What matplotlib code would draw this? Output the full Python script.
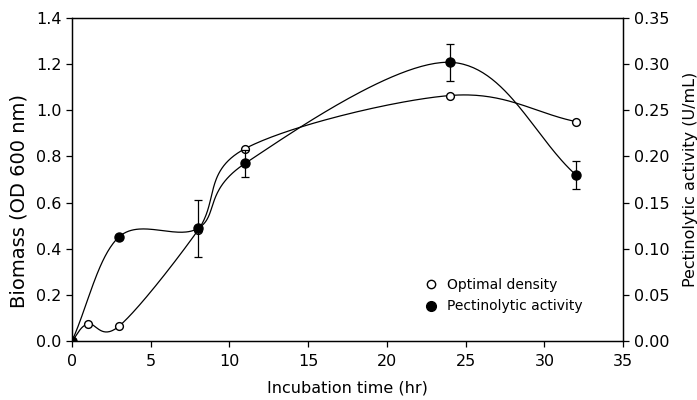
import numpy as np
import matplotlib
matplotlib.use("Agg")
import matplotlib.pyplot as plt
from matplotlib.lines import Line2D

plt.rcParams['font.family'] = ['DejaVu Sans']

# Data
od_time = [0, 1, 3, 8, 11, 24, 32]
od_values = [0.0, 0.074, 0.065, 0.48, 0.834, 1.064, 0.951]

act_time = [0, 3, 8, 11, 24, 32]
act_values = [0.0, 0.113, 0.122, 0.1925, 0.302, 0.180]
act_err = [0.0, 0.0, 0.031, 0.0145, 0.020, 0.015]

x_ticks = [0, 5, 10, 15, 20, 25, 30, 35]
left_ticks = [0.0, 0.2, 0.4, 0.6, 0.8, 1.0, 1.2, 1.4]
right_ticks = [0.00, 0.05, 0.10, 0.15, 0.20, 0.25, 0.30, 0.35]

XMAX, YL, YR = 35.0, 1.4, 0.35
W_PX, H_PX = 551.0, 323.0


def catmull_rom(x, y, ymax, n=60):
    """Parametric Catmull-Rom spline computed in display-proportional space."""
    px = np.asarray(x, float) / XMAX * W_PX
    py = np.asarray(y, float) / ymax * H_PX
    P = np.column_stack([px, py])
    P = np.vstack([2 * P[0] - P[1], P, 2 * P[-1] - P[-2]])
    out = []
    t = np.linspace(0, 1, n)[:, None]
    for i in range(1, len(P) - 2):
        p0, p1, p2, p3 = P[i - 1], P[i], P[i + 1], P[i + 2]
        m1 = (p2 - p0) / 2
        m2 = (p3 - p1) / 2
        h00 = 2 * t**3 - 3 * t**2 + 1
        h10 = t**3 - 2 * t**2 + t
        h01 = -2 * t**3 + 3 * t**2
        h11 = t**3 - t**2
        out.append(h00 * p1 + h10 * m1 + h01 * p2 + h11 * m2)
    C = np.vstack(out)
    return C[:, 0] / W_PX * XMAX, C[:, 1] / H_PX * ymax


fig = plt.figure(figsize=(6.97, 4.0), dpi=100)
ax = fig.add_axes([0.1033, 0.1475, 0.7907, 0.8075])
ax2 = ax.twinx()

lw = 0.9
xs, ys = catmull_rom(od_time, od_values, YL)
ax.plot(xs, ys, color='black', lw=lw)
ax.plot(od_time, od_values, 'o', mfc='white', mec='black', mew=1.0, ms=5.6, zorder=3)

xs2, ys2 = catmull_rom(act_time, act_values, YR)
ax2.plot(xs2, ys2, color='black', lw=lw)
ax2.errorbar(act_time, act_values, yerr=act_err, fmt='o', color='black',
             ms=6.5, elinewidth=0.9, capsize=3.2, capthick=0.9, zorder=4)

ax.set_xlim(0, XMAX)
ax.set_ylim(0, YL)
ax2.set_ylim(0, YR)
ax.set_xticks(x_ticks)
ax.set_yticks(left_ticks)
ax2.set_yticks(right_ticks)
ax.set_xticklabels([str(t) for t in x_ticks])
ax.set_yticklabels([f"{t:.1f}" for t in left_ticks])
ax2.set_yticklabels([f"{t:.2f}" for t in right_ticks])

for a in (ax, ax2):
    a.tick_params(labelsize=11.5, direction='out', length=4.5, width=0.9, pad=3)
    for s in a.spines.values():
        s.set_linewidth(0.9)
ax.tick_params(axis='x', pad=5)

ax.set_xlabel("Incubation time (hr)", fontsize=11.5, labelpad=8)
ax.set_ylabel("Biomass (OD 600 nm)", fontsize=14)
ax.yaxis.set_label_coords((29 - 72) / 551, (341 - 201.5) / 323)
ax2.set_ylabel("Pectinolytic activity (U/mL)", fontsize=11.5, labelpad=10)

handles = [
    Line2D([], [], marker='o', ls='none', mfc='white', mec='black', mew=1.0, ms=6.0),
    Line2D([], [], marker='o', ls='none', color='black', ms=7),
]
ax.legend(handles, ["Optimal density", "Pectinolytic activity"], loc='lower right',
          bbox_to_anchor=(0.9375, 0.068), frameon=False, fontsize=10,
          handletextpad=0.2, labelspacing=0.55, borderaxespad=0)

fig.savefig("out.png", dpi=100)
